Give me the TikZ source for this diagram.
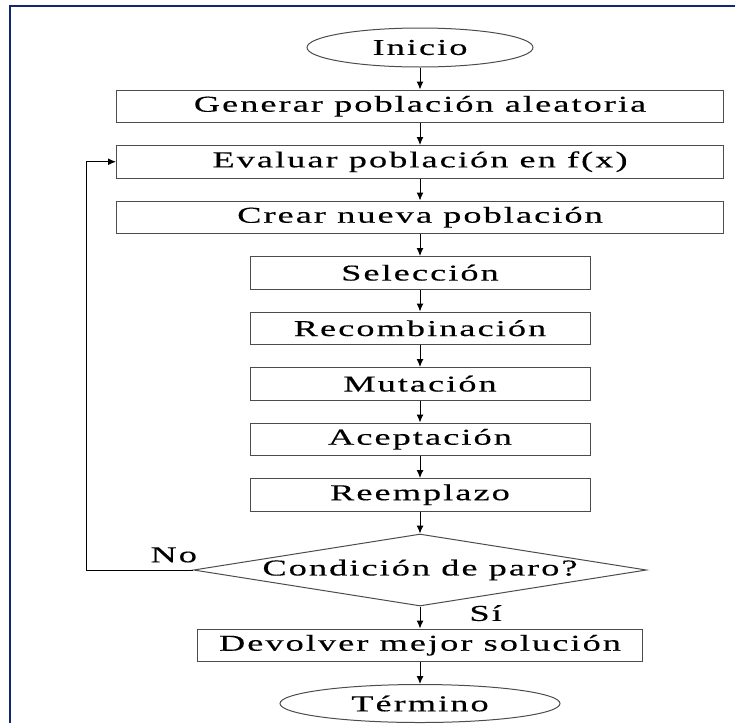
\documentclass[tikz,border=0pt]{standalone}
\usepackage{fontspec}
\newfontfamily\flowfont[FakeStretch=1.6,LetterSpace=9,FakeBold=0.3]{Liberation Serif}
\usepackage{tikz}
\usetikzlibrary{
        arrows.meta,
        positioning,
        shapes,
        shapes.geometric
    }
\definecolor{framebl}{RGB}{14,40,118}
\tikzset{>={Latex[length=8pt,width=7pt]},auto,node distance=22pt}
\tikzset{every node/.style={font=\flowfont\fontsize{22.7}{26}\selectfont}}

\begin{document}
\begin{tikzpicture}[x=1pt,y=-1pt,line width=1pt]
                    \tikzset{box/.style={draw=black!70,rectangle,minimum width=340pt,minimum height=32.5pt,inner sep=0pt},
                             bigbox/.style={box,minimum width=607pt},
                             term/.style={draw=black!70,ellipse,minimum height=39pt,inner sep=0pt},
                             decision/.style={draw=black!70,diamond,aspect=6.3,minimum width=453pt,minimum height=72pt,inner sep=0pt},
                             lbl/.style={inner sep=1pt}}
                    \useasboundingbox (0,0) rectangle (735,723);
                    \draw[framebl,line width=2.4pt] (10,723) -- (10,6) -- (735,6);

                        \node[term,minimum width=226pt] (ini) at (420,47.5) {Inicio};
                        \node[bigbox] (gen)  [below=of ini]    {Generar población aleatoria};
                        \node[bigbox] (eval) [below=of gen]    {Evaluar población en f(x)};
                        \node[bigbox] (crear) [below=of eval]  {Crear nueva población};
                        \node[box] (sel)  [below=of crear]     {Selección};
                        \node[box] (rec)  [below=of sel]       {Recombinación};
                        \node[box] (mut)  [below=of rec]       {Mutación};
                        \node[box] (acep) [below=of mut]       {Aceptación};
                        \node[box] (reem) [below=of acep]      {Reemplazo};
                        \node[decision] (cond) [below=of reem] {Condición de paro?};
                        \node[box,minimum width=445pt] (dev) [below=of cond] {Devolver mejor solución};
                        \node[term,minimum width=280pt,minimum height=38pt] (fin) [below=of dev] {Término};
                        \coordinate (back) at (86,0);
                    \path[->]
                            (ini)   edge (gen)
                            (gen)   edge (eval)
                            (eval)  edge (crear)
                            (crear) edge (sel)
                            (sel)   edge (rec)
                            (rec)   edge (mut)
                            (mut)   edge (acep)
                            (acep)  edge (reem)
                            (reem)  edge (cond)
                            (cond)  edge node[lbl,pos=0.3,xshift=48pt] {Sí} (dev)
                            (dev)   edge (fin)
                            ;
                    \draw[->] (cond.west) -- node[lbl,above,pos=0.18,yshift=6pt] {No} (cond.west -| back) |- (eval.west);
            \end{tikzpicture}
\end{document}
